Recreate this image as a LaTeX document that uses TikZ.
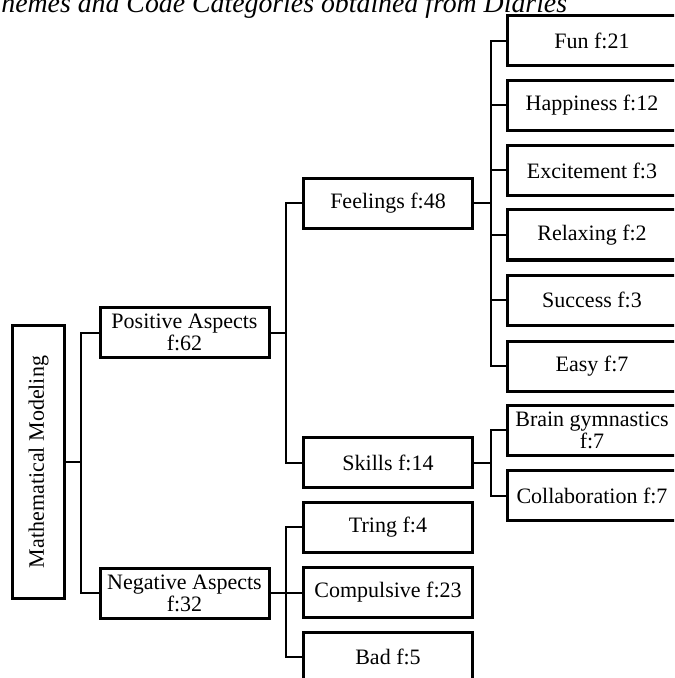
\documentclass[tikz,border=0pt]{standalone}
\usepackage{fontspec}
\setmainfont{Liberation Serif}
\usepackage{graphicx}
\usepackage{tikz}

\begin{document}
\begin{tikzpicture}[
    x=0.5pt, y=-0.5pt,
    box/.style={rectangle, draw=black, line width=1.5pt, fill=white,
                minimum width=84.5pt, minimum height=25pt, inner sep=1pt,
                font=\fontsize{11}{11}\selectfont, align=center},
    rootbox/.style={box, minimum width=26pt, minimum height=136.5pt},
    conn/.style={draw=black, line width=1pt},
    caption/.style={font=\fontsize{13.9}{16}\selectfont\itshape,
                    anchor=base west, inner sep=0pt}
]
    \useasboundingbox (0,0) rectangle (674,678);
    \clip (0,0) rectangle (674,678);

    % Caption (cut at the top)
    \node[caption] (title) at (1, 13) {hemes and Code Categories obtained from Diaries};

    % Root
    \node[rootbox] (root) at (38.5, 462) {\rotatebox{90}{Mathematical Modeling}};

    % Aspects
    \node[box] (pos) at (184.5, 332.5) {Positive Aspects\\f:62};
    \node[box] (neg) at (184.5, 593) {Negative Aspects\\f:32};

    % Second level
    \node[box] (feel)  at (388, 203.5) {Feelings f:48};
    \node[box] (skill) at (388, 462.5) {Skills f:14};
    \node[box] (tring) at (388, 527)   {Tring f:4};
    \node[box] (comp)  at (388, 592.5) {Compulsive f:23};
    \node[box] (bad)   at (388, 657)   {Bad f:5};

    % Feelings codes
    \node[box] (fun)   at (592, 41)    {Fun f:21};
    \node[box] (happy) at (592, 105.5) {Happiness f:12};
    \node[box] (excit) at (592, 170.5) {Excitement f:3};
    \node[box] (relax) at (592, 235)   {Relaxing f:2};
    \node[box] (succ)  at (592, 300)   {Success f:3};
    \node[box] (easy)  at (592, 366)   {Easy f:7};

    % Skills codes
    \node[box] (brain)  at (592, 430)   {Brain gymnastics\\f:7};
    \node[box] (collab) at (592, 495.5) {Collaboration f:7};

    % Connectors
    \draw[conn] (root.east) -- ++(15,0) coordinate (b0);
    \foreach \n in {pos,neg}
        \draw[conn] (b0) |- (\n.west);

    \draw[conn] (pos.east) -- ++(15,0) coordinate (b1);
    \foreach \n in {feel,skill}
        \draw[conn] (b1) |- (\n.west);

    \draw[conn] (neg.east) -- ++(15,0) coordinate (b2);
    \foreach \n in {tring,comp,bad}
        \draw[conn] (b2) |- (\n.west);

    \draw[conn] (feel.east) -- ++(17,0) coordinate (b3);
    \foreach \n in {fun,happy,excit,relax,succ,easy}
        \draw[conn] (b3) |- (\n.west);

    \draw[conn] (skill.east) -- ++(17,0) coordinate (b4);
    \foreach \n in {brain,collab}
        \draw[conn] (b4) |- (\n.west);
\end{tikzpicture}
\end{document}
